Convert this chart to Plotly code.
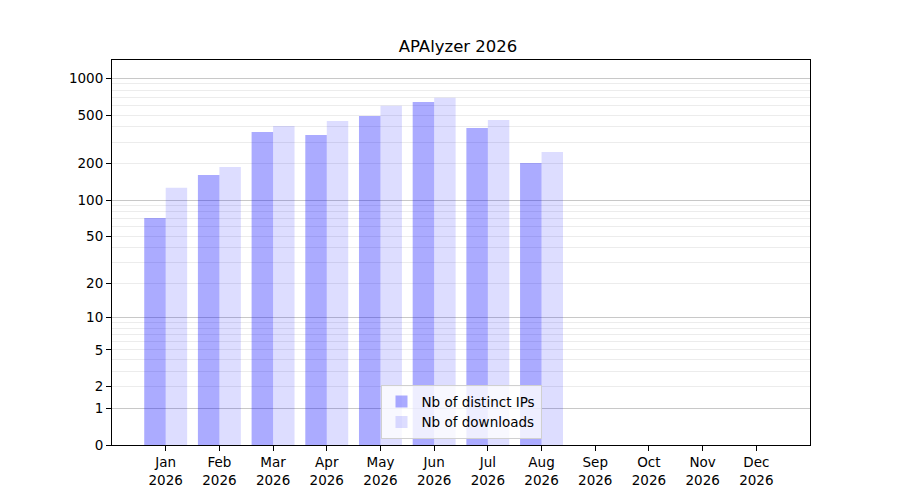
import numpy as np
import plotly.graph_objects as go

months = ["Jan", "Feb", "Mar", "Apr", "May", "Jun", "Jul", "Aug", "Sep", "Oct", "Nov", "Dec"]
year = "2026"
distinct_ips = [71, 161, 363, 343, 491, 640, 392, 202]
downloads = [126, 187, 407, 447, 597, 694, 456, 249]

# y axis is log10(1 + x): bars start from 0 (base = 1 on a log axis)
tick_values = [0, 1, 2, 5, 10, 20, 50, 100, 200, 500, 1000]
major_values = [1, 10, 100, 1000]
minor_values = [m * d for d in (1, 10, 100) for m in (3, 4, 6, 7, 8, 9)]

labels = [f"{m}<br>{year}" for m in months]
font = "DejaVu Sans, Liberation Sans, sans-serif"

fig = go.Figure()
fig.add_trace(go.Bar(
    x=labels[:len(distinct_ips)], y=distinct_ips, base=1,
    name="Nb of distinct IPs", marker=dict(color="rgba(0,0,255,0.33)", line_width=0),
))
fig.add_trace(go.Bar(
    x=labels[:len(downloads)], y=downloads, base=1,
    name="Nb of downloads", marker=dict(color="rgba(0,0,255,0.135)", line_width=0),
))
# empty trace so the overlay axis carrying the decade grid lines exists
fig.add_trace(go.Scatter(x=[labels[0]], y=[None], yaxis="y2", showlegend=False, hoverinfo="skip"))

y_range = [0, 3.15]
fig.update_layout(
    width=900, height=500,
    paper_bgcolor="white", plot_bgcolor="white",
    # page body has an 8px margin, so offsets are reduced accordingly
    margin=dict(l=104, r=98, t=52, b=63),
    font=dict(family=font, size=13.5, color="black"),
    title=dict(text="APAlyzer 2026", x=0.5, xanchor="center", y=0.924, yanchor="middle",
               font=dict(size=16.5)),
    barmode="group", bargap=0.2, bargroupgap=0,
    xaxis=dict(
        type="category", categoryorder="array", categoryarray=labels,
        tickvals=labels, range=[-1, 12],
        showline=True, linecolor="black", linewidth=1, mirror=True,
        ticks="outside", ticklen=5, tickcolor="black", showgrid=False,
    ),
    yaxis=dict(
        type="log", range=y_range,
        tickvals=[v + 1 for v in tick_values], ticktext=[str(v) for v in tick_values],
        showline=True, linecolor="black", linewidth=1, mirror=True,
        ticks="outside", ticklen=5, tickcolor="black",
        showgrid=True, gridcolor="#ececec", gridwidth=1, zeroline=False,
        minor=dict(tickvals=[v + 1 for v in minor_values], showgrid=True,
                   gridcolor="#ececec", gridwidth=1, ticks=""),
    ),
    yaxis2=dict(
        type="log", range=y_range, overlaying="y", side="left",
        tickvals=[v + 1 for v in major_values], showticklabels=False, ticks="",
        showgrid=True, gridcolor="#c8c8c8", gridwidth=1, showline=False, zeroline=False,
    ),
    legend=dict(
        x=0.5, xanchor="center", y=0.015, yanchor="bottom",
        bgcolor="rgba(255,255,255,0.8)", bordercolor="#d0d0d0", borderwidth=1,
        font=dict(size=13.5), tracegroupgap=2,
    ),
    showlegend=True,
)

fig.write_html("out.html")
